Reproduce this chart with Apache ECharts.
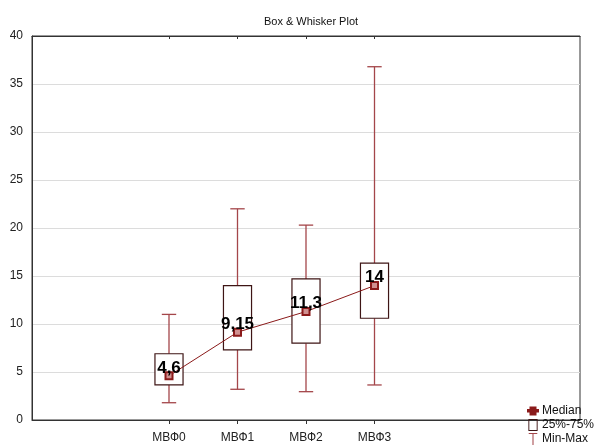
<!DOCTYPE html>
<html><head><meta charset="utf-8">
<script src="https://cdn.jsdelivr.net/npm/echarts@6/dist/echarts.min.js"></script>
<style>html,body{margin:0;padding:0;background:#fff}#c{width:595px;height:446px}</style>
</head><body><div id="c"></div>
<script>
var categories = ['МВФ0', 'МВФ1', 'МВФ2', 'МВФ3'];
var mins    = [1.8, 3.2, 2.95, 3.65];
var q1s     = [3.65, 7.3, 8.0, 10.6];
var medians = [4.6, 9.15, 11.3, 14];
var q3s     = [6.9, 14.0, 14.7, 16.35];
var maxs    = [11.0, 22.0, 20.3, 36.8];
var yTicks  = [0, 5, 10, 15, 20, 25, 30, 35, 40];

var padBefore = 2, padAfter = 3;
var axisCats = [];
for (var i = 0; i < padBefore; i++) axisCats.push('');
categories.forEach(function (c) { axisCats.push(c); });
for (var i = 0; i < padAfter; i++) axisCats.push('');

var boxData = categories.map(function (c, i) {
  return [i + padBefore, mins[i], q1s[i], q3s[i], maxs[i]];
});
var medData = axisCats.map(function (c, i) {
  var k = i - padBefore;
  return (k >= 0 && k < medians.length) ? medians[k] : null;
});

var FONT = 'Liberation Sans, Arial, sans-serif';
var WHISK = '#a4464a';
var BOXC = '#3e1515';
var MED = '#8b1a1a';

function renderBox(params, api) {
  var idx = api.value(0);
  var pMin = api.coord([idx, api.value(1)]);
  var pQ1 = api.coord([idx, api.value(2)]);
  var pQ3 = api.coord([idx, api.value(3)]);
  var pMax = api.coord([idx, api.value(4)]);
  var band = api.size([1, 0])[0];
  var bw = band * 0.41, cw = band * 0.21;
  var x = pQ1[0];
  return {
    type: 'group',
    children: [
      { type: 'line', shape: { x1: x, y1: pMax[1], x2: x, y2: pQ3[1] }, style: { stroke: WHISK, lineWidth: 1.3 } },
      { type: 'line', shape: { x1: x, y1: pQ1[1], x2: x, y2: pMin[1] }, style: { stroke: WHISK, lineWidth: 1.3 } },
      { type: 'line', shape: { x1: x - cw / 2, y1: pMax[1], x2: x + cw / 2, y2: pMax[1] }, style: { stroke: WHISK, lineWidth: 1.3 } },
      { type: 'line', shape: { x1: x - cw / 2, y1: pMin[1], x2: x + cw / 2, y2: pMin[1] }, style: { stroke: WHISK, lineWidth: 1.3 } },
      { type: 'rect', shape: { x: x - bw / 2, y: pQ3[1], width: bw, height: pQ1[1] - pQ3[1] }, style: { fill: '#fff', stroke: BOXC, lineWidth: 1.2 } }
    ]
  };
}

var chart = echarts.init(document.getElementById('c'), null, { renderer: 'canvas' });
chart.setOption({
  animation: false,
  backgroundColor: '#fff',
  textStyle: { fontFamily: FONT },
  title: {
    text: 'Box & Whisker Plot', left: 306, top: 11, textAlign: 'center',
    textStyle: { fontSize: 11, fontWeight: 'normal', color: '#111', fontFamily: FONT }
  },
  grid: { left: 32, right: 15, top: 36, bottom: 26, show: true, borderColor: '#333', borderWidth: 1, backgroundColor: 'transparent' },
  legend: {
    orient: 'vertical', left: 527, top: 404, itemGap: 0, itemWidth: 10, itemHeight: 12, padding: 0,
    textStyle: { fontSize: 12, lineHeight: 14, height: 14, color: '#111', fontFamily: FONT, padding: [0, 0, 0, -1] },
    data: [
      { name: 'Median', icon: 'path://M0,4H2.5V1.5H7.5V4H10V5.5H7.5V8.5H2.5V5.5H0Z', itemStyle: { color: MED } },
      { name: '25%-75%', icon: 'path://M0,0H10V13H0Z M1,1V12H9V1Z', itemStyle: { color: BOXC } },
      { name: 'Min-Max', icon: 'path://M0,0H10V1.2H5.6V14H4.4V1.2H0Z', itemStyle: { color: WHISK } }
    ]
  },
  xAxis: [{
    type: 'category', data: axisCats, boundaryGap: false, position: 'bottom',
    axisLine: { lineStyle: { color: '#333' } },
    axisTick: { show: true, length: 4, lineStyle: { color: '#333' }, interval: function (i, v) { return v !== ''; } },
    axisLabel: { fontSize: 12, color: '#222', margin: 12, interval: 0 },
    splitLine: { show: false }
  }, {
    type: 'category', data: axisCats, boundaryGap: false, position: 'top',
    axisLine: { lineStyle: { color: '#333' } },
    axisTick: { show: true, inside: true, length: 3, lineStyle: { color: '#333' }, interval: function (i, v) { return v !== ''; } },
    axisLabel: { show: false }
  }],
  yAxis: {
    type: 'value', min: yTicks[0], max: yTicks[yTicks.length - 1], interval: 5,
    axisLine: { show: true, lineStyle: { color: '#333' } },
    axisTick: { show: false },
    axisLabel: { fontSize: 12, color: '#222', margin: 9 },
    splitLine: { show: true, lineStyle: { color: '#dcdcdc' } }
  },
  series: [{
    name: '25%-75%', type: 'custom', renderItem: renderBox, data: boxData,
    encode: { x: 0, y: [1, 2, 3, 4] }, z: 2, itemStyle: { color: BOXC }
  }, {
    name: 'Min-Max', type: 'line', data: [], itemStyle: { color: WHISK }
  }, {
    name: 'Median', type: 'line', data: medData, z: 5,
    symbol: 'rect', symbolSize: 7, showAllSymbol: true,
    lineStyle: { color: MED, width: 1 },
    itemStyle: { color: '#d09090', borderColor: MED, borderWidth: 2 },
    label: {
      show: true, position: 'inside', offset: [0, -8],
      fontSize: 17, fontWeight: 'bold', color: '#000', fontFamily: FONT,
      formatter: function (p) { return String(p.value).replace('.', ','); }
    }
  }]
});
</script></body></html>
